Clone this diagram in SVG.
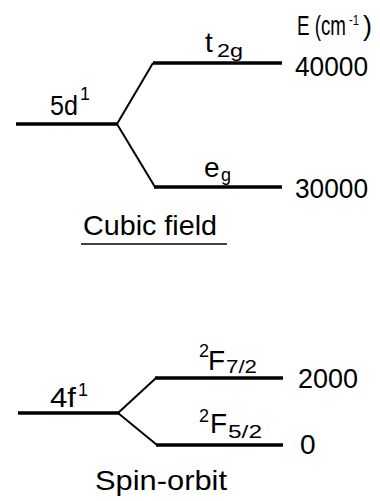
<svg xmlns="http://www.w3.org/2000/svg" width="380" height="501" viewBox="0 0 380 501">
  <style>
    .lvl { stroke: #000; stroke-width: 3.6; fill: none; stroke-linecap: butt; }
    .br { stroke: #000; stroke-width: 2; fill: none; }
    text { font-family: "Liberation Sans", Arial, sans-serif; fill: #000; }
    .big { font-size: 28px; }
    .sm { font-size: 18px; }
    .xs { font-size: 14px; }
  </style>
  <rect width="380" height="501" fill="#fff"/>

  <!-- energy axis label -->
  <g id="axis-label">
    <text class="big" y="35"><tspan x="297" textLength="49" lengthAdjust="spacingAndGlyphs">E (cm</tspan><tspan class="xs" x="349" y="25" textLength="10" lengthAdjust="spacingAndGlyphs">-1</tspan><tspan x="363" y="35" textLength="9" lengthAdjust="spacingAndGlyphs">)</tspan></text>
  </g>

  <!-- cubic field splitting -->
  <g id="level-5d">
    <line class="lvl" x1="16" y1="124" x2="118" y2="124"/>
    <text class="big" x="50" y="115" textLength="28" lengthAdjust="spacingAndGlyphs">5d</text>
    <text class="sm" x="80" y="100">1</text>
  </g>
  <g id="level-t2g">
    <line class="lvl" x1="153" y1="63" x2="282" y2="63"/>
    <text class="big" x="205" y="52">t</text>
    <text class="sm" x="217" y="57" textLength="26" lengthAdjust="spacingAndGlyphs">2g</text>
    <text class="big" x="295" y="76" textLength="73" lengthAdjust="spacingAndGlyphs">40000</text>
  </g>
  <g id="level-eg">
    <line class="lvl" x1="154" y1="187" x2="282" y2="187"/>
    <text class="big" x="204" y="177">e</text>
    <text class="sm" x="221" y="181">g</text>
    <text class="big" x="295" y="198" textLength="73" lengthAdjust="spacingAndGlyphs">30000</text>
  </g>
  <g id="title-cubic">
    <text class="big" x="83" y="235" textLength="134" lengthAdjust="spacingAndGlyphs">Cubic field</text>
    <line x1="81" y1="244" x2="227" y2="244" stroke="#000" stroke-width="1.6"/>
  </g>

  <!-- spin-orbit splitting -->
  <g id="level-4f">
    <line class="lvl" x1="18" y1="413" x2="119" y2="413"/>
    <text class="big" x="50" y="407" textLength="26" lengthAdjust="spacingAndGlyphs">4f</text>
    <text class="sm" x="78" y="396">1</text>
  </g>
  <g id="level-F72">
    <line class="lvl" x1="155" y1="378" x2="283" y2="378"/>
    <text class="sm" x="199" y="357">2</text>
    <text class="big" x="208" y="370">F</text>
    <text class="sm" x="226" y="373" textLength="31" lengthAdjust="spacingAndGlyphs">7/2</text>
    <text class="big" x="298" y="388" textLength="60" lengthAdjust="spacingAndGlyphs">2000</text>
  </g>
  <g id="level-F52">
    <line class="lvl" x1="156" y1="445" x2="283" y2="445"/>
    <text class="sm" x="199" y="422">2</text>
    <text class="big" x="210" y="433">F</text>
    <text class="sm" x="228" y="438" textLength="34" lengthAdjust="spacingAndGlyphs">5/2</text>
    <text class="big" x="300" y="454">0</text>
  </g>
  <g id="title-spin">
    <text class="big" x="95" y="490" textLength="132" lengthAdjust="spacingAndGlyphs">Spin-orbit</text>
  </g>

  <!-- splitting connectors -->
  <g id="connectors">
    <line class="br" x1="117" y1="124" x2="153" y2="63"/>
    <line class="br" x1="117" y1="124" x2="155" y2="187"/>
    <line class="br" x1="118" y1="413" x2="156" y2="378"/>
    <line class="br" x1="118" y1="413" x2="157" y2="445"/>
  </g>
</svg>
